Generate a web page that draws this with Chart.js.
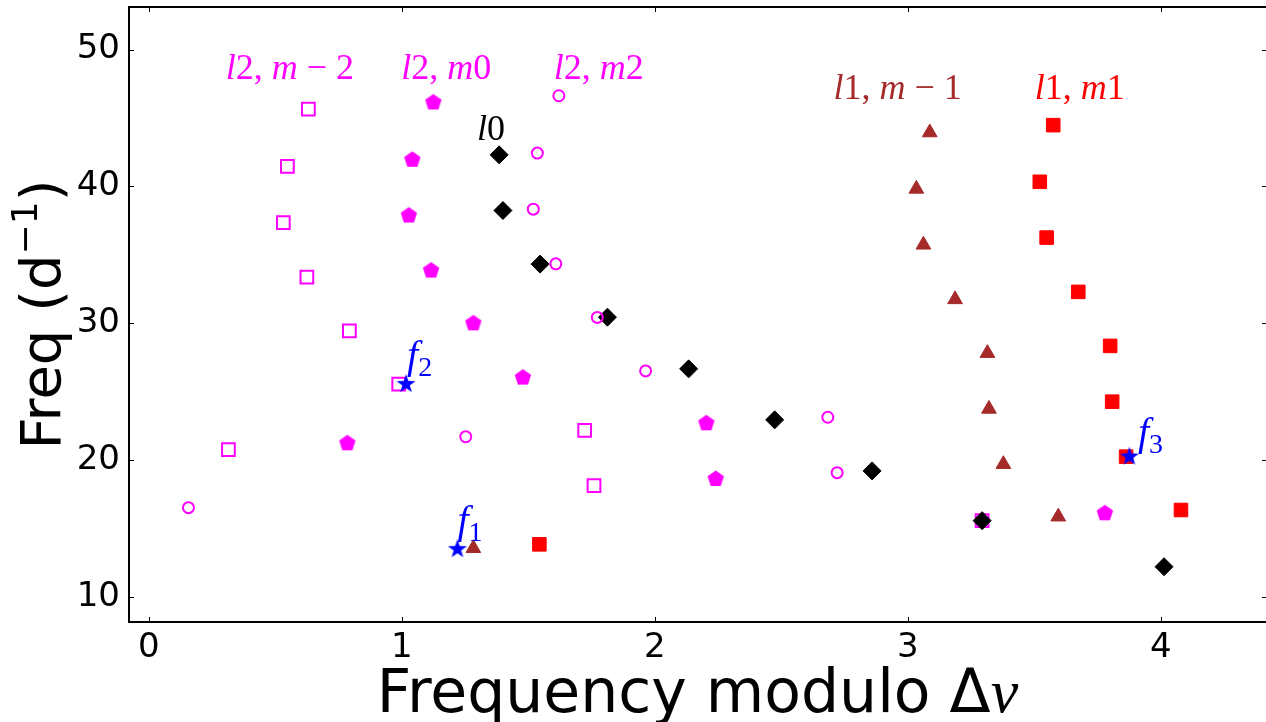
<!DOCTYPE html>
<html>
<head>
<meta charset="utf-8">
<script src="https://cdn.jsdelivr.net/npm/chart.js@4.4.0/dist/chart.umd.min.js"></script>
<style>
  html, body { margin: 0; padding: 0; background: #fff; }
  #wrap { width: 1266px; height: 722px; }
</style>
</head>
<body>
<div id="wrap"><canvas id="echelle" width="1266" height="722"></canvas></div>
<script>
// echelle diagram, frequencies folded on the large separation
const xTicks = [0, 1, 2, 3, 4];
const yTicks = [10, 20, 30, 40, 50];

// l=2, m=-2 (open squares)
const l2mm2X = [0.631, 0.548, 0.532, 0.625, 0.793, 0.988, 0.315, 1.723, 1.760, 3.294];
const l2mm2Y = [45.65, 41.46, 37.36, 33.36, 29.44, 25.54, 20.75, 22.17, 18.12, 15.56];
// l=2, m=0 (pentagons)
const l2m0X = [1.125, 1.042, 1.028, 1.116, 1.283, 1.479, 0.785, 2.204, 2.241, 3.779];
const l2m0Y = [46.14, 41.95, 37.87, 33.85, 29.99, 26.02, 21.22, 22.68, 18.61, 16.10];
// l=2, m=2 (open circles)
const l2m2X = [1.621, 1.536, 1.520, 1.609, 1.773, 1.964, 2.684, 2.721, 0.157, 1.253];
const l2m2Y = [46.63, 42.44, 38.34, 34.34, 30.42, 26.51, 23.12, 19.07, 16.51, 21.70];
// l=0 (diamonds)
const l0X = [1.385, 1.400, 1.547, 1.813, 2.134, 2.474, 2.859, 3.294, 4.013];
const l0Y = [42.31, 38.24, 34.32, 30.44, 26.66, 22.93, 19.20, 15.56, 12.19];
// l=1, m=-1 (triangles)
const l1mm1X = [3.087, 3.034, 3.062, 3.187, 3.315, 3.321, 3.378, 3.595, 1.283];
const l1mm1Y = [43.94, 39.82, 35.73, 31.74, 27.81, 23.73, 19.69, 15.85, 13.54];
// l=1, m=1 (filled squares)
const l1m1X = [3.575, 3.522, 3.549, 3.674, 3.800, 3.808, 3.863, 4.080, 1.544];
const l1m1Y = [44.48, 40.34, 36.26, 32.29, 28.34, 24.26, 20.24, 16.34, 13.83];
// f1, f2, f3 (stars)
const starX = [1.220, 1.017, 3.876];
const starY = [13.47, 25.54, 20.24];

// mode labels (centred) and frequency labels ('_' marks a subscript)
const modeText = ['l2, m − 2', 'l2, m0', 'l2, m2', 'l0', 'l1, m − 1', 'l1, m1'];
const modeX = [0.558, 1.176, 1.779, 1.353, 2.960, 3.680];
const modeY = [47.87, 47.87, 47.87, 43.41, 46.41, 46.41];
const freqText = ['f_1', 'f_2', 'f_3'];
const freqX = [1.220, 1.021, 3.910];
const freqY = [14.65, 26.73, 21.10];

const MAGENTA = '#ff00ff', BROWN = '#a52a2a', RED = '#ff0000', BLUE = '#0000ff';
const modeColors = [MAGENTA, MAGENTA, MAGENTA, '#000000', BROWN, RED];

const pts = (xs, ys) => xs.map((x, i) => ({ x: x, y: ys[i] }));

function polygonMarker(n, outer, inner, color) {
    const size = Math.ceil(outer * 2 + 4);
    const c = document.createElement('canvas');
    c.width = size; c.height = size;
    const g = c.getContext('2d');
    const steps = inner ? n * 2 : n;
    g.beginPath();
    for (let i = 0; i < steps; i++) {
        const r = inner && i % 2 ? inner : outer;
        const a = -Math.PI / 2 + i * 2 * Math.PI / steps;
        const px = size / 2 + r * Math.cos(a), py = size / 2 + r * Math.sin(a);
        i ? g.lineTo(px, py) : g.moveTo(px, py);
    }
    g.closePath();
    g.fillStyle = color;
    g.fill();
    return c;
}

const pentagon = polygonMarker(5, 8.6, 0, MAGENTA);
const star = polygonMarker(5, 10, 3.9, BLUE);

function drawMath(ctx, str, x, y, size, color, align) {
    const parts = [];
    for (let i = 0; i < str.length; i++) {
        let c = str[i], sub = false;
        if (c === '_') { sub = true; c = str[++i]; }
        const sz = sub ? size * 0.7 : size;
        const it = /[a-z]/.test(c);
        parts.push({ c: c, font: (it ? 'italic ' : '') + sz + 'px "Liberation Serif", serif', dy: sub ? size * 0.2 : 0 });
    }
    ctx.save();
    ctx.fillStyle = color;
    ctx.textBaseline = 'alphabetic';
    ctx.textAlign = 'left';
    let w = 0;
    parts.forEach(p => { ctx.font = p.font; p.w = ctx.measureText(p.c).width; w += p.w; });
    let cx = align === 'center' ? x - w / 2 : x;
    parts.forEach(p => { ctx.font = p.font; ctx.fillText(p.c, cx, y + p.dy); cx += p.w; });
    ctx.restore();
}

// draws runs of [text, font, raise] one after another
function drawRuns(ctx, runs, x, y) {
    let w = 0;
    runs.forEach(r => { ctx.font = r[1]; w += ctx.measureText(r[0]).width; });
    let cx = x - w / 2;
    runs.forEach(r => { ctx.font = r[1]; ctx.fillText(r[0], cx, y - r[2]); cx += ctx.measureText(r[0]).width; });
}

const framePlugin = {
    id: 'frame',
    afterDraw(chart) {
        const ctx = chart.ctx, a = chart.chartArea;
        const xs = chart.scales.x, ys = chart.scales.y;
        ctx.save();
        ctx.strokeStyle = '#000';
        ctx.lineWidth = 1;
        ctx.beginPath();
        xTicks.forEach(v => {
            const px = Math.round(xs.getPixelForValue(v)) + 0.5;
            ctx.moveTo(px, a.bottom); ctx.lineTo(px, a.bottom - 5);
            ctx.moveTo(px, a.top); ctx.lineTo(px, a.top + 5);
        });
        yTicks.forEach(v => {
            const py = Math.round(ys.getPixelForValue(v)) + 0.5;
            ctx.moveTo(a.left, py); ctx.lineTo(a.left + 5, py);
            ctx.moveTo(a.right, py); ctx.lineTo(a.right - 4, py);
        });
        ctx.stroke();
        // right spine sits just past the picture edge, so only three sides show
        ctx.lineWidth = 2;
        ctx.beginPath();
        ctx.moveTo(a.right, a.top); ctx.lineTo(a.left, a.top);
        ctx.lineTo(a.left, a.bottom); ctx.lineTo(a.right, a.bottom);
        ctx.stroke();

        // annotations
        modeText.forEach((t, i) => {
            drawMath(ctx, t, xs.getPixelForValue(modeX[i]), ys.getPixelForValue(modeY[i]), 36, modeColors[i], 'center');
        });
        freqText.forEach((t, i) => {
            drawMath(ctx, t, xs.getPixelForValue(freqX[i]), ys.getPixelForValue(freqY[i]), 40, BLUE, 'left');
        });

        // axis titles
        ctx.fillStyle = '#000';
        ctx.textBaseline = 'alphabetic';
        ctx.textAlign = 'left';
        drawRuns(ctx, [
            ['Frequency modulo Δ', '60px "DejaVu Sans", sans-serif', 0],
            ['v', 'italic 62px "Liberation Serif", serif', 0]
        ], (a.left + a.right) / 2, 712);

        ctx.translate(60, (a.top + a.bottom) / 2);
        ctx.rotate(-Math.PI / 2);
        drawRuns(ctx, [
            ['Freq (d', '56px "DejaVu Sans", sans-serif', 0],
            ['−1', '36px "DejaVu Sans", sans-serif', 23],
            [')', '56px "DejaVu Sans", sans-serif', 0]
        ], 0, 0);
        ctx.restore();
    }
};

new Chart(document.getElementById('echelle'), {
    type: 'scatter',
    data: {
        datasets: [
            { label: 'f', data: pts(starX, starY), pointStyle: star, radius: 9, order: 0 },
            { label: 'l2 m2', data: pts(l2m2X, l2m2Y), pointStyle: 'circle', radius: 5.5, borderWidth: 2,
              borderColor: MAGENTA, backgroundColor: 'rgba(0,0,0,0)', order: 1 },
            { label: 'l0', data: pts(l0X, l0Y), pointStyle: 'rectRot', radius: 9, borderWidth: 1,
              borderColor: '#000', backgroundColor: '#000', order: 2 },
            { label: 'l1 m1', data: pts(l1m1X, l1m1Y), pointStyle: 'rect', radius: 9.6, borderWidth: 1,
              borderColor: RED, backgroundColor: RED, order: 3 },
            { label: 'l1 m-1', data: pts(l1mm1X, l1mm1Y), pointStyle: 'triangle', radius: 8.5, borderWidth: 1,
              borderColor: BROWN, backgroundColor: BROWN, order: 4 },
            { label: 'l2 m0', data: pts(l2m0X, l2m0Y), pointStyle: pentagon, radius: 8, order: 5 },
            { label: 'l2 m-2', data: pts(l2mm2X, l2mm2Y), pointStyle: 'rect', radius: 9, borderWidth: 2,
              borderColor: MAGENTA, backgroundColor: 'rgba(0,0,0,0)', order: 6 }
        ]
    },
    options: {
        responsive: false,
        animation: false,
        devicePixelRatio: 1,
        layout: { autoPadding: false, padding: { left: 0, top: 7, right: 0, bottom: 0 } },
        plugins: { legend: { display: false }, tooltip: { enabled: false } },
        scales: {
            x: {
                type: 'linear', min: -0.078, max: 4.416,
                afterBuildTicks: s => { s.ticks = xTicks.map(v => ({ value: v })); },
                afterFit: s => { s.height = 100; s.paddingLeft = 0; s.paddingRight = 0; },
                grid: { display: false, drawTicks: false },
                border: { display: false },
                ticks: { padding: 6, color: '#000', font: { family: 'DejaVu Sans', size: 34 }, maxRotation: 0,
                         callback: v => String(v) }
            },
            y: {
                type: 'linear', min: 8.15, max: 53.12,
                afterBuildTicks: s => { s.ticks = yTicks.map(v => ({ value: v })); },
                afterFit: s => { s.width = 129; s.paddingTop = 0; s.paddingBottom = 0; },
                grid: { display: false, drawTicks: false },
                border: { display: false },
                ticks: { padding: 9, color: '#000', font: { family: 'DejaVu Sans', size: 34 },
                         callback: v => String(v) }
            }
        }
    },
    plugins: [framePlugin]
});
</script>
</body>
</html>
